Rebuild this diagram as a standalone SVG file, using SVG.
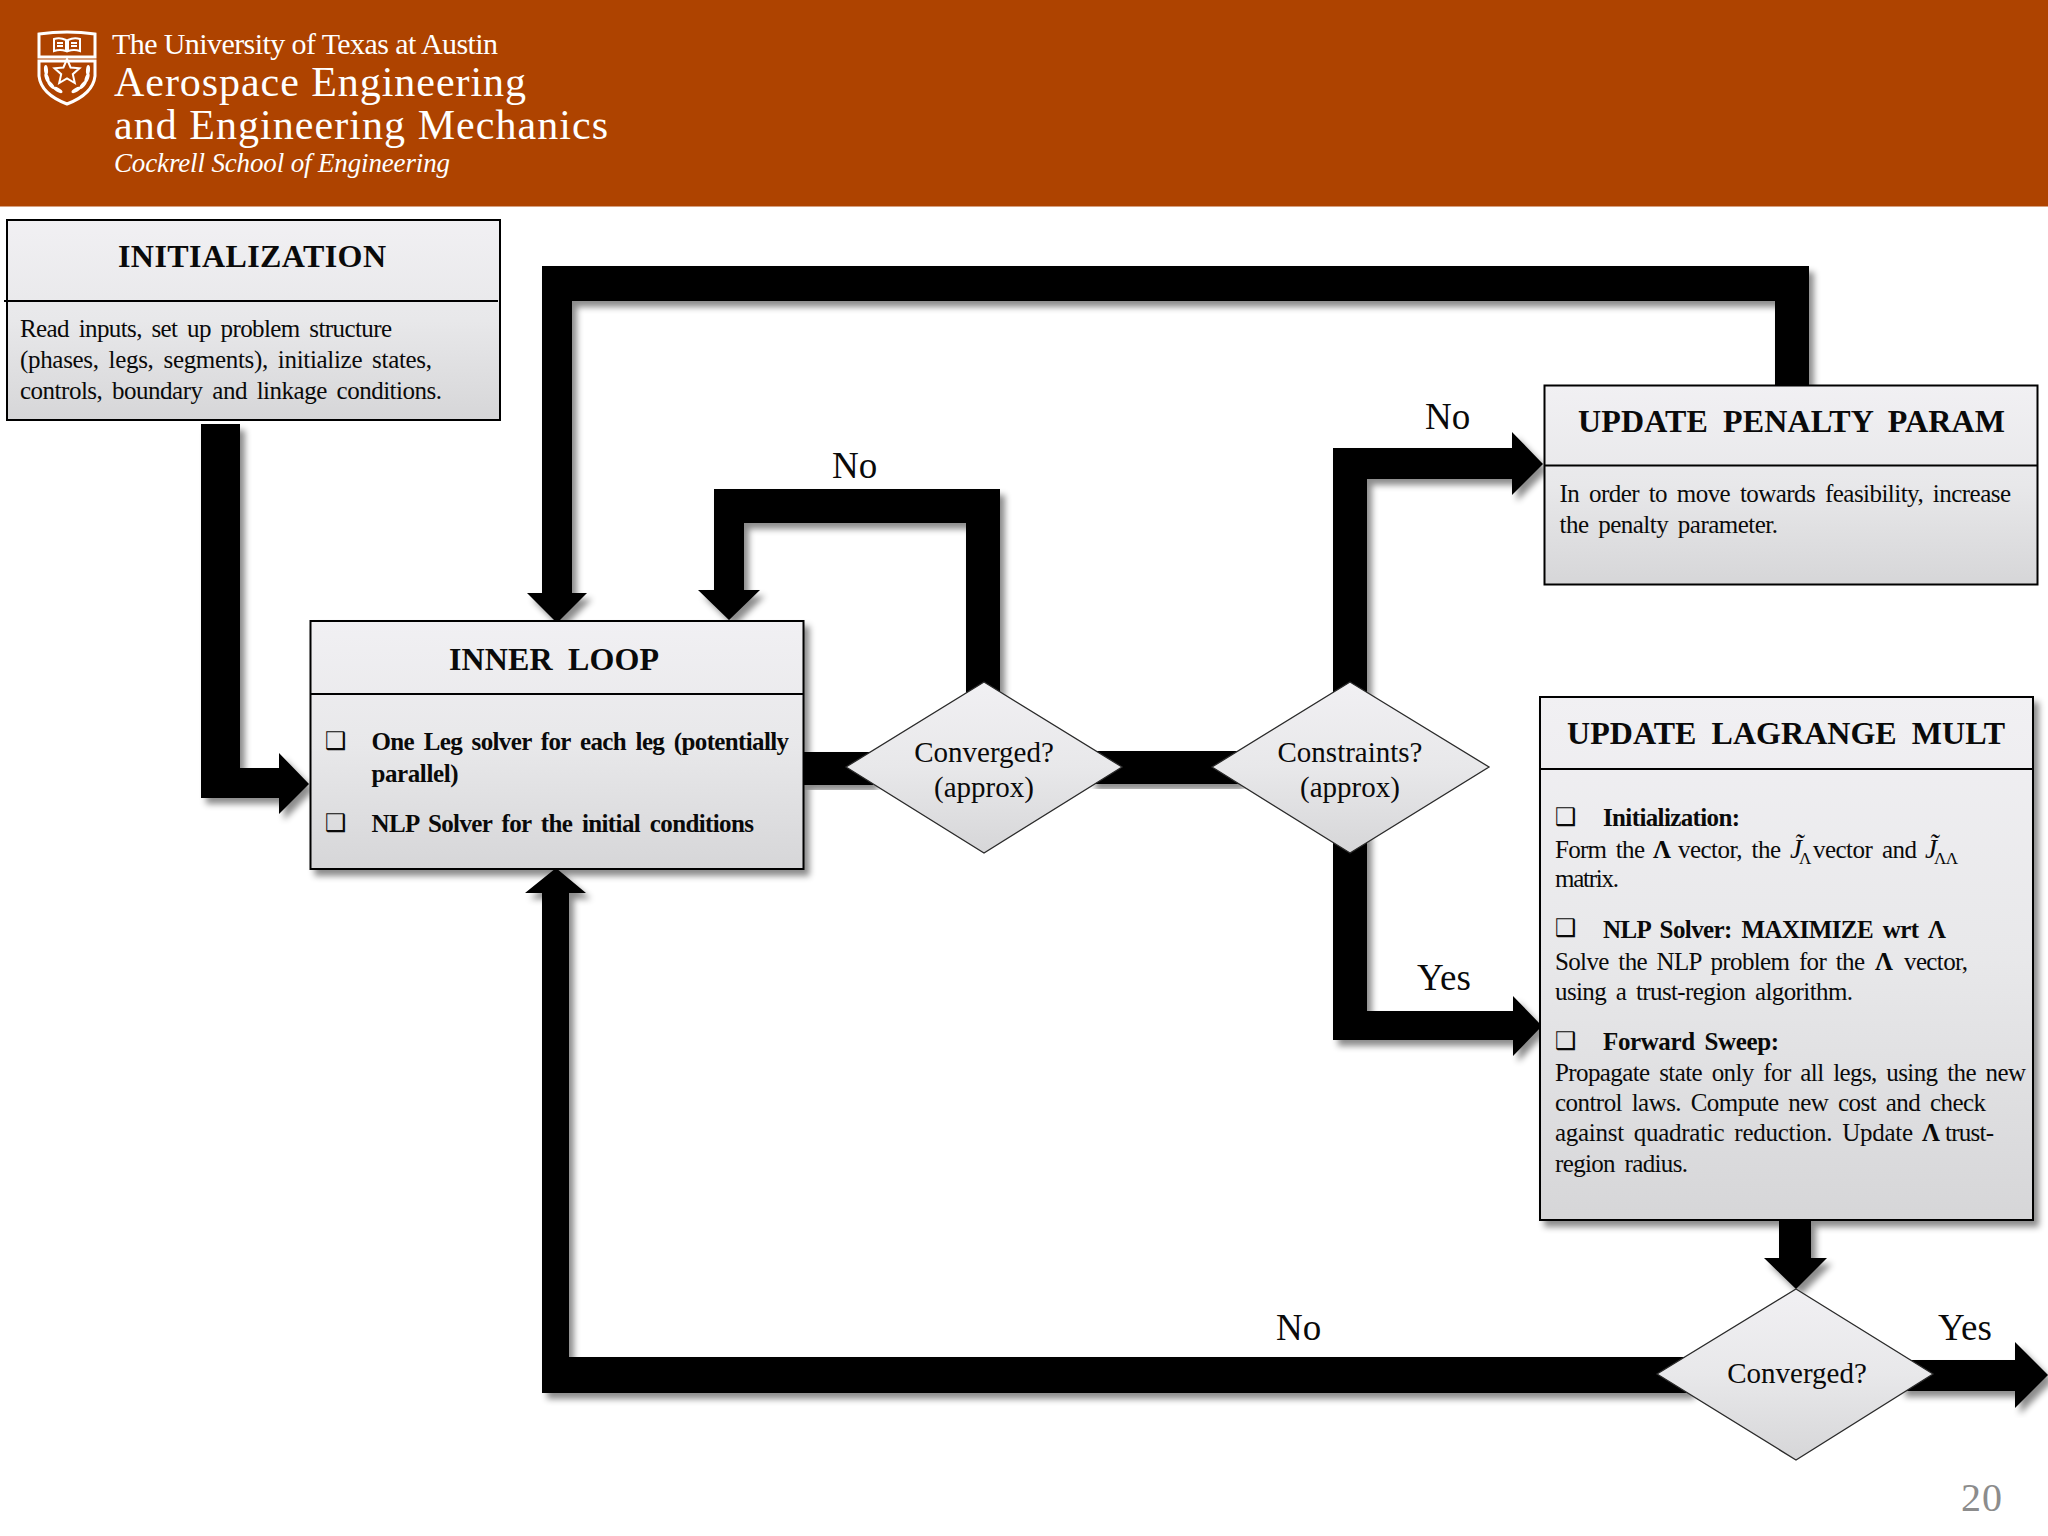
<svg xmlns="http://www.w3.org/2000/svg" width="2048" height="1536" viewBox="0 0 2048 1536">
<style>
text{font-family:"Liberation Serif","Times New Roman",serif;fill:#0a0a0a}
.t{font-size:32px;font-weight:bold;word-spacing:7px}
.b{font-size:25px;word-spacing:4px}
.bb{font-size:25px;font-weight:bold;word-spacing:4px}
.l{font-size:37px}
.d{font-size:29px;text-anchor:middle}
.j{font-size:27px;font-style:italic}
.s{font-size:17px}
.cb{font-family:"DejaVu Sans",sans-serif;font-size:24px}
.box{stroke:#000;stroke-width:2;fill:url(#g)}
.dia{stroke:#2a2a2a;stroke-width:1.3;fill:url(#g)}
.div{stroke:#000;stroke-width:1.8;fill:none}
.con{fill:#000}
.lg{fill:none;stroke:#fff;stroke-width:3}
.lf{fill:#fff}
</style>
<defs>
<linearGradient id="g" x1="0" y1="0" x2="0" y2="1"><stop offset="0" stop-color="#f1f0f3"/><stop offset="0.5" stop-color="#e8e8ea"/><stop offset="1" stop-color="#d6d6d8"/></linearGradient>
<filter id="sh" x="-10%" y="-10%" width="125%" height="125%"><feDropShadow dx="5" dy="6" stdDeviation="3" flood-color="#000" flood-opacity="0.45"/></filter>
</defs>
<rect width="2048" height="1536" fill="#fff"/>
<g id="banner">
<rect width="2048" height="206.500" fill="#ae4300"/>
<g id="logo">
<path class="lg" d="M39 34Q67 30 95 34V57H39Z"/>
<path class="lg" d="M39 61H95V76Q93 94 67 104Q41 94 39 76Z"/>
<path fill="none" stroke="#fff" stroke-width="2" d="M54 39Q60 37 66 40V51Q60 49 54 51ZM68 40Q74 37 80 39V51Q74 49 68 51ZM57 43H63M57 46H63M71 43H77M71 46H77"/>
<path fill="none" stroke="#fff" stroke-width="2" d="M67 59L70.6 67.5 79.5 68.3 72.8 74.2 74.8 83 67 78.4 59.2 83 61.2 74.2 54.5 68.3 63.4 67.5Z"/>
<g class="lf">
<ellipse cx="46" cy="70" rx="2" ry="5" transform="rotate(-5 46 70)"/><ellipse cx="47" cy="78" rx="2" ry="5" transform="rotate(-20 47 78)"/><ellipse cx="51" cy="85" rx="2" ry="5" transform="rotate(-40 51 85)"/><ellipse cx="58" cy="90" rx="2" ry="5" transform="rotate(-60 58 90)"/>
<ellipse cx="88" cy="70" rx="2" ry="5" transform="rotate(5 88 70)"/><ellipse cx="87" cy="78" rx="2" ry="5" transform="rotate(20 87 78)"/><ellipse cx="83" cy="85" rx="2" ry="5" transform="rotate(40 83 85)"/><ellipse cx="76" cy="90" rx="2" ry="5" transform="rotate(60 76 90)"/>
</g>
</g>
<text x="112" y="54" font-size="30" textLength="386" style="fill:#fff">The University of Texas at Austin</text>
<text x="114" y="96" font-size="42" textLength="412" style="fill:#fff">Aerospace Engineering</text>
<text x="114" y="139" font-size="42" textLength="494" style="fill:#fff">and Engineering Mechanics</text>
<text x="114" y="172" font-size="27" font-style="italic" textLength="336" style="fill:#fff">Cockrell School of Engineering</text>
</g>
<g id="connectors">
<polygon class="con" filter="url(#sh)" points="201,424 240,424 240,768 279,768 279,753 309,784 279,814 279,798 201,798"/>
<polygon class="con" filter="url(#sh)" points="1775,385 1775,301 572,301 572,593 587,593 557,623 527,593 542,593 542,266 1809,266 1809,385"/>
<polygon class="con" filter="url(#sh)" points="966,700 966,523 744,523 744,590 760,590 729,620 698,590 714,590 714,489 1000,489 1000,700"/>
<polygon class="con" filter="url(#sh)" points="1333,700 1333,448 1512,448 1512,432 1543,464 1512,495 1512,479 1367,479 1367,700"/>
<polygon class="con" filter="url(#sh)" points="1333,830 1367,830 1367,1011 1513,1011 1513,996 1542,1026 1513,1056 1513,1040 1333,1040"/>
<rect class="con" filter="url(#sh)" x="803" y="752" width="70" height="33"/>
<rect class="con" filter="url(#sh)" x="1090" y="751" width="150" height="33"/>
<polygon class="con" filter="url(#sh)" points="1779,1220 1811,1220 1811,1258 1827,1258 1796,1289 1764,1258 1779,1258"/>
<polygon class="con" filter="url(#sh)" points="1690,1357 569,1357 569,893 586,893 556,868 525,893 542,893 542,1393 1690,1393"/>
<polygon class="con" filter="url(#sh)" points="1900,1360 2015,1360 2015,1342 2048,1375 2015,1408 2015,1391 1900,1391"/>
</g>
<g id="initialization">
<rect class="box" x="7" y="220" width="493" height="200"/>
<line class="div" x1="4" y1="301" x2="498" y2="301"/>
<text class="t" x="118" y="267" textLength="268">INITIALIZATION</text>
<text class="b" x="20" y="337" textLength="372">Read inputs, set up problem structure</text>
<text class="b" x="20" y="368" textLength="412">(phases, legs, segments), initialize states,</text>
<text class="b" x="20" y="399" textLength="422">controls, boundary and linkage conditions.</text>
</g>
<g id="inner-loop">
<rect class="box" filter="url(#sh)" x="310.500" y="621" width="493" height="248"/>
<line class="div" x1="310.500" y1="694" x2="803.500" y2="694"/>
<text class="t" x="449" y="670" textLength="210">INNER LOOP</text>
<text class="cb" x="325" y="749">❑</text>
<text class="bb" x="371.500" y="750" textLength="417.500">One Leg solver for each leg (potentially</text>
<text class="bb" x="371.500" y="782" textLength="87">parallel)</text>
<text class="cb" x="325" y="831">❑</text>
<text class="bb" x="371.500" y="832" textLength="382.500">NLP Solver for the initial conditions</text>
</g>
<g id="update-penalty">
<rect class="box" x="1544.500" y="385.500" width="493" height="199"/>
<line class="div" x1="1544.500" y1="465.500" x2="2037.500" y2="465.500"/>
<text class="t" x="1578" y="432" textLength="427">UPDATE PENALTY PARAM</text>
<text class="b" x="1559.500" y="502" textLength="451.500">In order to move towards feasibility, increase</text>
<text class="b" x="1559.500" y="533" textLength="218.500">the penalty parameter.</text>
</g>
<g id="update-lagrange">
<rect class="box" filter="url(#sh)" x="1540" y="697" width="493" height="523"/>
<line class="div" x1="1540" y1="769" x2="2033" y2="769"/>
<text class="t" x="1567" y="744" textLength="438">UPDATE LAGRANGE MULT</text>
<text class="cb" x="1555" y="825">❑</text>
<text class="bb" x="1603" y="826" textLength="137">Initialization:</text>
<text class="b" x="1555" y="857.500" textLength="90">Form the</text>
<text class="bb" x="1653" y="857.500">Λ</text>
<text class="b" x="1678" y="857.500" textLength="103">vector, the</text>
<text class="j" x="1790" y="857.500">J̃</text>
<text class="s" x="1799" y="864">Λ</text>
<text class="b" x="1813" y="857.500" textLength="104">vector and</text>
<text class="j" x="1925" y="857.500">J̃</text>
<text class="s" x="1934" y="864" textLength="24">ΛΛ</text>
<text class="b" x="1555" y="887" textLength="64">matrix.</text>
<text class="cb" x="1555" y="936">❑</text>
<text class="bb" x="1603" y="938" textLength="343">NLP Solver: MAXIMIZE wrt Λ</text>
<text class="b" x="1555" y="970" textLength="310">Solve the NLP problem for the</text>
<text class="bb" x="1875" y="970">Λ</text>
<text class="b" x="1904" y="970" textLength="64">vector,</text>
<text class="b" x="1555" y="1000" textLength="298">using a trust-region algorithm.</text>
<text class="cb" x="1555" y="1049">❑</text>
<text class="bb" x="1603" y="1050" textLength="176">Forward Sweep:</text>
<text class="b" x="1555" y="1081" textLength="471">Propagate state only for all legs, using the new</text>
<text class="b" x="1555" y="1111" textLength="431">control laws. Compute new cost and check</text>
<text class="b" x="1555" y="1141" textLength="358">against quadratic reduction. Update</text>
<text class="bb" x="1922" y="1141">Λ</text>
<text class="b" x="1945" y="1141" textLength="49">trust-</text>
<text class="b" x="1555" y="1172" textLength="133">region radius.</text>
</g>
<g id="decision-inner">
<polygon class="dia" points="984,682 1122,767 984,853 846,767"/>
<text class="d" x="984" y="762">Converged?</text>
<text class="d" x="984" y="797">(approx)</text>
</g>
<g id="decision-constraints">
<polygon class="dia" points="1350,682 1489,767 1350,853 1212,767"/>
<text class="d" x="1350" y="762">Constraints?</text>
<text class="d" x="1350" y="797">(approx)</text>
</g>
<g id="decision-outer">
<polygon class="dia" points="1796,1289 1933,1374 1796,1460 1657,1374"/>
<text class="d" x="1797" y="1383">Converged?</text>
</g>
<g id="labels">
<text class="l" x="832" y="478">No</text>
<text class="l" x="1425" y="429">No</text>
<text class="l" x="1417" y="990">Yes</text>
<text class="l" x="1276" y="1340">No</text>
<text class="l" x="1938" y="1340">Yes</text>
<text x="1961" y="1511" font-size="40" textLength="41" style="fill:#8c8c8c">20</text>
</g>
</svg>
